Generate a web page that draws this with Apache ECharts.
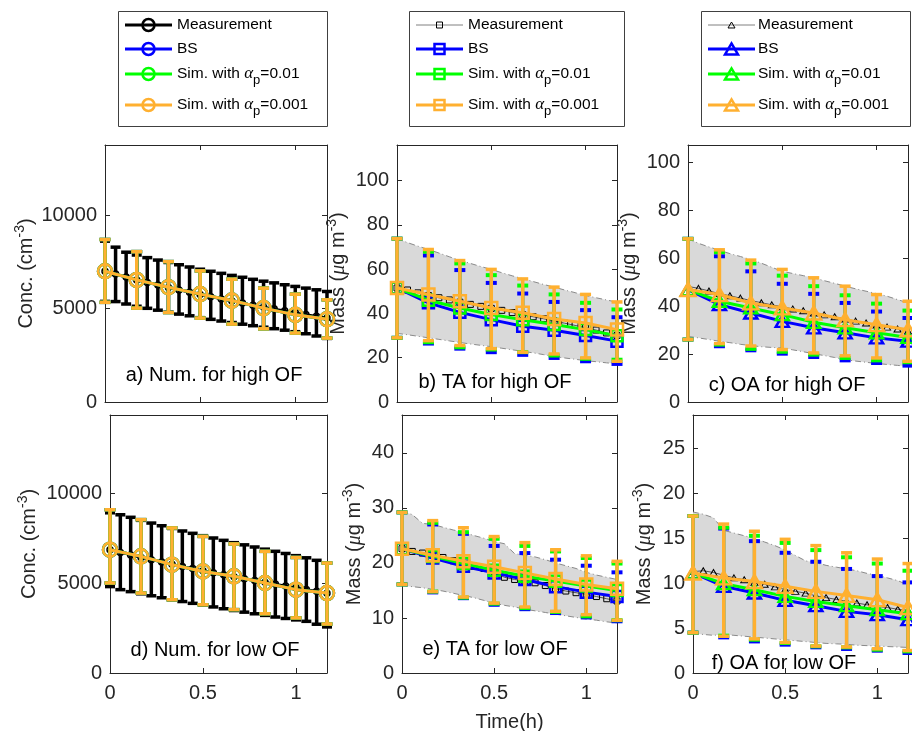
<!DOCTYPE html>
<html><head><meta charset="utf-8">
<script src="https://cdn.jsdelivr.net/npm/echarts@6/dist/echarts.min.js"></script>
<style>html,body{margin:0;padding:0;background:#fff}#c{width:912px;height:731px}</style>
</head><body><div id="c"></div>
<script>
// ================= DATA =================
const simTime  = [0, 0.1667, 0.3333, 0.5, 0.6667, 0.8333, 1.0, 1.1667];
const measTime = [0, 0.0556, 0.1111, 0.1667, 0.2222, 0.2778, 0.3333, 0.3889, 0.4444, 0.5, 0.5556,
                  0.6111, 0.6667, 0.7222, 0.7778, 0.8333, 0.8889, 0.9444, 1.0, 1.0556, 1.1111, 1.1667];
const xTicks = [0, 0.5, 1];
const yTicksNum = [0, 5000, 10000];
const yTicksTAHigh = [0, 20, 40, 60, 80, 100];
const yTicksOAHigh = [0, 20, 40, 60, 80, 100];
const yTicksTALow = [0, 10, 20, 30, 40];
const yTicksOALow = [0, 5, 10, 15, 20, 25];

const seriesNames = ['Measurement', 'BS', 'Sim. with αp=0.01', 'Sim. with αp=0.001'];
const panelTitles = ['a) Num. for high OF', 'b) TA for high OF', 'c) OA for high OF',
                     'd) Num. for low OF', 'e) TA for low OF', 'f) OA for low OF'];

// a) Number, high OF
const numHighMeas   = [6990, 6840, 6680, 6530, 6390, 6260, 6120, 5990, 5870, 5750, 5630, 5510, 5400, 5290, 5180, 5080, 4980, 4880, 4780, 4680, 4580, 4490];
const numHighMeasHi = [8600, 8280, 8010, 7860, 7720, 7590, 7460, 7340, 7220, 7100, 6990, 6880, 6770, 6670, 6560, 6460, 6370, 6270, 6180, 6090, 6000, 5910];
const numHighMeasLo = [5380, 5370, 5240, 5120, 5010, 4910, 4800, 4700, 4610, 4510, 4420, 4330, 4250, 4160, 4080, 4000, 3920, 3840, 3760, 3650, 3530, 3400];
const numHighSim    = [6990, 6530, 6140, 5770, 5425, 5020, 4660, 4430];
const numHighSimLo  = [5330, 5020, 4785, 4486, 4165, 3914, 3685, 3418];
const numHighSimHi  = [8690, 8042, 7508, 7011, 6568, 6088, 5767, 5463];

// d) Number, low OF
const numLowMeas   = [6850, 6700, 6560, 6420, 6290, 6160, 6040, 5920, 5800, 5680, 5570, 5460, 5350, 5240, 5140, 5040, 4940, 4840, 4740, 4640, 4540, 4430];
const numLowMeasHi = [8900, 8790, 8650, 8480, 8330, 8180, 8030, 7890, 7760, 7630, 7500, 7370, 7240, 7120, 7000, 6880, 6760, 6640, 6520, 6400, 6260, 6110];
const numLowMeasLo = [4800, 4630, 4520, 4400, 4290, 4180, 4070, 3970, 3870, 3770, 3670, 3570, 3470, 3380, 3290, 3200, 3110, 3030, 2950, 2870, 2710, 2560];
const numLowSim    = [6850, 6480, 6020, 5640, 5370, 5000, 4630, 4440];
const numLowSimLo  = [5000, 4440, 4070, 3790, 3520, 3290, 3060, 2720];
const numLowSimHi  = [9070, 8520, 8060, 7590, 7170, 6760, 6420, 6110];

// b) TA, high OF
const taHighMeas   = [51.5, 50.6, 49.3, 48.1, 47.1, 46.1, 45.1, 44.1, 43.2, 42.3, 41.4, 40.4, 39.5, 38.5, 37.6, 36.6, 35.6, 34.6, 33.6, 32.5, 31.2, 30.0];
const taHighBandHi = [73.8, 72.0, 70.4, 68.9, 67.3, 65.6, 64.0, 62.6, 61.2, 59.9, 58.4, 57.0, 55.7, 54.4, 53.1, 51.9, 50.6, 49.4, 48.1, 47.1, 46.1, 45.1];
const taHighBandLo = [31.0, 30.4, 29.7, 29.0, 28.3, 27.6, 26.9, 26.2, 25.6, 25.0, 24.3, 23.6, 22.9, 22.2, 21.4, 20.5, 19.9, 19.3, 18.7, 18.2, 17.7, 17.2];
const taHighBS     = [51.5, 44.8, 40.5, 37.2, 34.2, 32.4, 30.0, 27.5];
const taHighBSLo   = [29.0, 26.4, 24.1, 22.5, 21.3, 19.9, 18.4, 17.2];
const taHighBSHi   = [73.8, 66.2, 59.6, 53.8, 49.0, 45.2, 41.5, 38.3];
const taHighS01    = [51.5, 46.0, 42.5, 39.5, 37.2, 35.0, 32.7, 29.9];
const taHighS01Lo  = [29.0, 27.0, 24.7, 23.7, 22.5, 21.0, 19.5, 19.1];
const taHighS01Hi  = [73.8, 67.9, 62.6, 57.3, 52.6, 48.6, 44.8, 41.8];
const taHighS001   = [51.5, 48.6, 45.5, 42.5, 40.3, 37.5, 35.7, 32.7];
const taHighS001Lo = [29.0, 27.7, 25.5, 24.1, 22.5, 21.7, 19.9, 18.4];
const taHighS001Hi = [73.8, 68.9, 63.9, 59.9, 55.6, 51.9, 48.6, 45.2];

// c) OA, high OF
const oaHighMeas   = [48.3, 47.5, 46.4, 45.3, 44.4, 43.4, 42.4, 41.5, 40.6, 39.8, 38.9, 38.1, 37.2, 36.4, 35.6, 34.7, 33.8, 33.0, 32.2, 31.3, 30.5, 29.7];
const oaHighBandHi = [68.2, 66.3, 64.8, 63.4, 62.0, 60.8, 59.5, 58.0, 56.3, 54.6, 53.7, 52.8, 51.9, 50.7, 49.6, 48.4, 47.3, 46.3, 45.3, 44.2, 42.8, 41.4];
const oaHighBandLo = [27.4, 26.8, 26.1, 25.4, 24.8, 24.1, 23.6, 23.1, 22.8, 22.6, 21.8, 21.0, 20.2, 19.4, 18.6, 17.7, 17.1, 16.6, 16.1, 15.7, 15.3, 14.9];
const oaHighBS     = [47.0, 40.7, 37.2, 33.7, 31.0, 28.9, 26.8, 25.4];
const oaHighBSLo   = [26.1, 23.3, 21.6, 20.2, 18.8, 17.4, 16.3, 15.2];
const oaHighBSHi   = [68.2, 60.9, 54.6, 49.4, 45.2, 41.4, 37.8, 35.1];
const oaHighS01    = [47.0, 42.1, 39.3, 36.5, 33.3, 31.0, 28.9, 27.0];
const oaHighS01Lo  = [26.1, 24.0, 22.2, 21.0, 19.8, 18.4, 17.4, 16.6];
const oaHighS01Hi  = [68.2, 62.6, 57.9, 52.8, 48.4, 44.6, 41.1, 38.2];
const oaHighS001   = [47.0, 44.9, 41.4, 39.3, 37.2, 34.4, 32.3, 30.2];
const oaHighS001Lo = [26.1, 24.4, 23.4, 21.9, 20.5, 19.3, 18.4, 17.0];
const oaHighS001Hi = [68.2, 63.6, 59.3, 55.4, 51.9, 48.4, 44.9, 42.1];

// e) TA, low OF
const taLowMeas   = [22.6, 22.1, 21.8, 21.4, 21.0, 20.4, 19.9, 19.4, 19.0, 18.4, 17.4, 17.0, 16.7, 16.4, 15.9, 15.3, 14.9, 14.6, 14.3, 13.9, 13.5, 13.1];
const taLowBandHi = [29.4, 28.8, 27.2, 27.0, 26.5, 26.0, 25.6, 25.0, 24.5, 23.9, 23.5, 21.7, 21.4, 21.1, 20.6, 20.0, 19.5, 19.0, 18.3, 17.8, 17.4, 17.0];
const taLowBandLo = [15.9, 15.7, 15.5, 15.2, 14.9, 14.5, 14.1, 13.7, 13.2, 12.7, 12.3, 12.0, 11.6, 11.3, 11.0, 10.7, 10.4, 10.1, 9.8, 9.6, 9.3, 9.1];
const taLowBS     = [22.6, 20.9, 19.4, 18.2, 17.0, 15.7, 14.7, 13.9];
const taLowBSLo   = [16.1, 14.65, 13.6, 12.4, 11.6, 10.9, 10.1, 9.4];
const taLowBSHi   = [29.2, 27.0, 25.3, 23.1, 21.8, 20.6, 19.5, 18.3];
const taLowS01    = [22.6, 21.2, 19.9, 18.7, 17.6, 16.7, 15.8, 15.0];
const taLowS01Lo  = [16.1, 14.8, 13.7, 12.6, 11.8, 11.1, 10.3, 9.6];
const taLowS01Hi  = [29.2, 27.3, 25.6, 24.4, 23.1, 22.1, 20.9, 19.9];
const taLowS001   = [22.6, 21.4, 20.3, 19.3, 18.2, 17.1, 16.1, 15.3];
const taLowS001Lo = [16.1, 14.8, 13.8, 12.7, 12.0, 11.2, 10.6, 9.6];
const taLowS001Hi = [29.2, 27.7, 26.4, 24.8, 23.7, 22.4, 21.3, 20.3];

// f) OA, low OF
const oaLowMeas   = [11.3, 11.4, 11.2, 10.9, 10.6, 10.4, 10.1, 9.9, 9.6, 9.3, 9.1, 8.9, 8.6, 8.4, 8.2, 8.0, 7.8, 7.6, 7.4, 7.3, 7.1, 7.0];
const oaLowBandHi = [17.95, 17.7, 17.3, 15.9, 15.6, 15.3, 15.0, 14.6, 14.2, 13.7, 13.1, 12.5, 12.3, 12.0, 11.8, 11.6, 11.4, 11.1, 10.9, 10.6, 10.3, 9.8];
const oaLowBandLo = [4.4, 4.3, 4.2, 4.3, 4.2, 4.1, 4.0, 3.9, 3.8, 3.7, 3.6, 3.5, 3.4, 3.3, 3.25, 3.2, 3.1, 3.05, 3.0, 2.95, 2.9, 2.85];
const oaLowBS     = [11.15, 9.66, 8.92, 8.1, 7.5, 6.87, 6.5, 5.94];
const oaLowBSLo   = [4.5, 3.97, 3.52, 3.16, 2.86, 2.68, 2.49, 2.23];
const oaLowBSHi   = [17.5, 16.1, 14.7, 13.4, 12.4, 11.6, 10.8, 10.1];
const oaLowS01    = [11.15, 9.96, 9.29, 8.54, 7.98, 7.5, 7.06, 6.61];
const oaLowS01Lo  = [4.5, 4.16, 3.71, 3.34, 2.97, 2.86, 2.6, 2.41];
const oaLowS01Hi  = [17.5, 16.2, 15.3, 14.5, 13.7, 12.9, 12.2, 11.4];
const oaLowS001   = [11.15, 10.6, 10.2, 9.66, 9.1, 8.65, 8.17, 7.3];
const oaLowS001Lo = [4.5, 4.1, 3.8, 3.4, 3.0, 2.9, 2.7, 2.5];
const oaLowS001Hi = [17.5, 16.6, 15.8, 14.9, 14.2, 13.4, 12.7, 12.2];

// ================= STYLE / LAYOUT =================
const FONT = "'Liberation Sans', Arial, Helvetica, sans-serif";
const AX = '#262626';
const C_MEAS = '#000000', C_BS = '#0000ff', C_S01 = '#00ff00', C_S001 = '#ffb030';
const XMAX = 1.1667;

const layout = [
  {left:105, top:145, width:222, height:257, ymax:13743, ticks:yTicksNum,    gap:65, tx:214, ty:375, name:'conc'},
  {left:397, top:145, width:220, height:257, ymax:116.1, ticks:yTicksTAHigh, gap:45, tx:495, ty:382, name:'mass'},
  {left:688, top:145, width:220, height:257, ymax:107.4, ticks:yTicksOAHigh, gap:45, tx:787, ty:385, name:'mass'},
  {left:110, top:415, width:217, height:258, ymax:14333, ticks:yTicksNum,    gap:67, tx:215, ty:650, name:'conc', xlab:true},
  {left:402, top:415, width:215, height:258, ymax:46.9,  ticks:yTicksTALow,  gap:34, tx:495, ty:649, name:'mass', xlab:true, xname:'Time(h)'},
  {left:693, top:415, width:215, height:258, ymax:28.76, ticks:yTicksOALow,  gap:35, tx:784, ty:663, name:'mass', xlab:true}
];

const nameRich = {
  n:   {fontSize:20, fontFamily:FONT, color:AX, verticalAlign:'middle'},
  mu:  {fontSize:20, fontFamily:"'Liberation Serif', serif", fontStyle:'italic', color:AX, verticalAlign:'middle'},
  sup: {fontSize:14, fontFamily:FONT, color:AX, verticalAlign:'middle', padding:[0,0,13,0]}
};
const yNames = {
  conc: '{n|Conc. (cm}{sup|-3}{n|)}',
  mass: '{n|Mass (}{mu|μ}{n|g m}{sup|-3}{n|)}'
};
const plainNum = v => String(Math.round(v * 1000) / 1000);

// ================= BUILDERS =================
const grids = [], xAxes = [], yAxes = [], series = [];

layout.forEach((L, p) => {
  grids.push({left:L.left, top:L.top, width:L.width, height:L.height, containLabel:false, outerBoundsMode:'none', show:false});
  const tick = {inside:true, length:5, lineStyle:{color:AX, width:1}};
  const line = {show:true, onZero:false, lineStyle:{color:AX, width:1}};
  xAxes.push({gridIndex:p, type:'value', min:0, max:XMAX, interval:xTicks[1]-xTicks[0], position:'bottom',
    axisLine:line, axisTick:tick, splitLine:{show:false},
    axisLabel:{show:!!L.xlab, color:AX, fontSize:20, fontFamily:FONT, margin:10, showMaxLabel:false, formatter:plainNum},
    name:L.xname||'', nameLocation:'middle', nameGap:39,
    nameTextStyle:{fontSize:20, fontFamily:FONT, color:AX}});
  xAxes.push({gridIndex:p, type:'value', min:0, max:XMAX, interval:xTicks[1]-xTicks[0], position:'top',
    axisLine:line, axisTick:tick, splitLine:{show:false}, axisLabel:{show:false}});
  yAxes.push({gridIndex:p, type:'value', min:0, max:L.ymax, interval:L.ticks[1]-L.ticks[0], position:'left',
    axisLine:line, axisTick:tick, splitLine:{show:false},
    axisLabel:{show:true, color:AX, fontSize:20, fontFamily:FONT, margin:8, showMaxLabel:false, formatter:plainNum},
    name:yNames[L.name], nameLocation:'middle', nameGap:L.gap,
    nameTextStyle:{fontSize:20, fontFamily:FONT, color:AX, rich:nameRich}});
  yAxes.push({gridIndex:p, type:'value', min:0, max:L.ymax, interval:L.ticks[1]-L.ticks[0], position:'right',
    axisLine:line, axisTick:tick, splitLine:{show:false}, axisLabel:{show:false}});
});

function band(p, t, lo, hi) {
  return {type:'custom', xAxisIndex:2*p, yAxisIndex:2*p, z:1, silent:true, clip:false,
    data:t.map((v,i)=>[v, lo[i], hi[i]]), encode:{x:0, y:[1,2]},
    renderItem:(params, api) => {
      if (params.dataIndex !== 0) return null;
      const up = t.map((v,i)=>api.coord([v, hi[i]]));
      const dn = t.map((v,i)=>api.coord([v, lo[i]]));
      return {type:'group', children:[
        {type:'polygon', shape:{points: up.concat(dn.slice().reverse())}, style:{fill:'#d9d9d9'}},
        {type:'polyline', shape:{points:up}, style:{stroke:'#8a8a8a', lineWidth:1, lineDash:[6,3,1,3], fill:null}},
        {type:'polyline', shape:{points:dn}, style:{stroke:'#8a8a8a', lineWidth:1, lineDash:[6,3,1,3], fill:null}}
      ]};
    }};
}

function errBars(p, t, lo, hi, color, lw, cap, capLw, z) {
  return {type:'custom', xAxisIndex:2*p, yAxisIndex:2*p, z:z, silent:true, clip:false,
    data:t.map((v,i)=>[v, lo[i], hi[i]]), encode:{x:0, y:[1,2]},
    renderItem:(params, api) => {
      const x = api.value(0);
      const a = api.coord([x, api.value(2)]), b = api.coord([x, api.value(1)]);
      return {type:'group', children:[
        {type:'line', shape:{x1:a[0], y1:a[1], x2:b[0], y2:b[1]}, style:{stroke:color, lineWidth:lw}},
        {type:'line', shape:{x1:a[0]-cap/2, y1:a[1], x2:a[0]+cap/2, y2:a[1]}, style:{stroke:color, lineWidth:capLw}},
        {type:'line', shape:{x1:b[0]-cap/2, y1:b[1], x2:b[0]+cap/2, y2:b[1]}, style:{stroke:color, lineWidth:capLw}}
      ]};
    }};
}

function curve(p, name, t, c, opt) {
  return {type:'line', name:name, xAxisIndex:2*p, yAxisIndex:2*p, z:opt.z, silent:true, clip:false,
    data:t.map((v,i)=>[v, c[i]]), symbol:opt.symbol, symbolSize:opt.size, showSymbol:true, showAllSymbol:true,
    lineStyle:{color:opt.lineColor || opt.color, width:opt.lw},
    itemStyle:{color:'rgba(0,0,0,0)', borderColor:opt.color, borderWidth:opt.bw}};
}

// panels a & d (number concentration)
[[0, numHighMeas, numHighMeasLo, numHighMeasHi, numHighSim, numHighSimLo, numHighSimHi],
 [3, numLowMeas,  numLowMeasLo,  numLowMeasHi,  numLowSim,  numLowSimLo,  numLowSimHi]].forEach(d => {
  const [p, m, mlo, mhi, s, slo, shi] = d;
  series.push(errBars(p, measTime, mlo, mhi, C_MEAS, 3.5, 10, 3.5, 2));
  series.push(curve(p, seriesNames[0], measTime, m, {color:C_MEAS, lw:2.5, symbol:'circle', size:6, bw:1.5, z:2}));
  // BS and both simulations coincide for number concentration
  [[C_BS,3],[C_S01,4],[C_S001,5]].forEach(([col, z], k) => {
    series.push(errBars(p, simTime, slo, shi, col, 3.5, 11, 3.5, z));
    series.push(curve(p, seriesNames[k+1], simTime, s, {color:col, lw:3, symbol:'circle', size:14, bw:2.5, z:z}));
  });
});

// mass panels b, c, e, f
const massPanels = [
  [1, 'rect',     taHighMeas, taHighBandLo, taHighBandHi,
      [taHighBS, taHighBSLo, taHighBSHi], [taHighS01, taHighS01Lo, taHighS01Hi], [taHighS001, taHighS001Lo, taHighS001Hi]],
  [2, 'triangle', oaHighMeas, oaHighBandLo, oaHighBandHi,
      [oaHighBS, oaHighBSLo, oaHighBSHi], [oaHighS01, oaHighS01Lo, oaHighS01Hi], [oaHighS001, oaHighS001Lo, oaHighS001Hi]],
  [4, 'rect',     taLowMeas, taLowBandLo, taLowBandHi,
      [taLowBS, taLowBSLo, taLowBSHi], [taLowS01, taLowS01Lo, taLowS01Hi], [taLowS001, taLowS001Lo, taLowS001Hi]],
  [5, 'triangle', oaLowMeas, oaLowBandLo, oaLowBandHi,
      [oaLowBS, oaLowBSLo, oaLowBSHi], [oaLowS01, oaLowS01Lo, oaLowS01Hi], [oaLowS001, oaLowS001Lo, oaLowS001Hi]]
];
massPanels.forEach(d => {
  const [p, sym, m, blo, bhi, bs, s01, s001] = d;
  const big = sym === 'triangle' ? [15,13] : 12;
  const mid = sym === 'triangle' ? [13,11] : 11;
  series.push(band(p, measTime, blo, bhi));
  series.push(curve(p, seriesNames[0], measTime, m, {color:'#000', lineColor:'#555', lw:1, symbol:sym, size:sym==='triangle'?[7,6]:6, bw:1, z:2}));
  [[bs, C_BS, 3, mid, 3, 4], [s01, C_S01, 4, mid, 3, 4], [s001, C_S001, 5, big, 3.5, 3.5]].forEach(([arr, col, z, sz, lw, clw], k) => {
    series.push(errBars(p, simTime, arr[1], arr[2], col, lw, 11, clw, z));
    series.push(curve(p, seriesNames[k+1], simTime, arr[0], {color:col, lw:3, symbol:sym, size:sz, bw:2.5, z:z}));
  });
});

// ================= GRAPHICS: titles & legends =================
const graphics = [];
layout.forEach((L, p) => {
  graphics.push({type:'text', x:L.tx, y:L.ty, z:100, silent:true,
    style:{text:panelTitles[p], fontSize:20, fontFamily:FONT, fill:'#000', align:'center', verticalAlign:'middle'}});
});

const legRich = {
  n:   {fontSize:15.5, fontFamily:FONT, color:'#000', verticalAlign:'middle'},
  al:  {fontSize:17, fontFamily:"'Liberation Serif', serif", fontStyle:'italic', color:'#000', verticalAlign:'middle'},
  sub: {fontSize:13, fontFamily:FONT, color:'#000', verticalAlign:'middle', padding:[13,0,0,0]}
};
const legTexts = ['{n|Measurement}', '{n|BS}', '{n|Sim. with }{al|α}{sub|p}{n|=0.01}', '{n|Sim. with }{al|α}{sub|p}{n|=0.001}'];
const rowY = [25, 49, 74, 105];

function marker(sym, cx, cy, s, color, lw) {
  const st = {fill:'none', stroke:color, lineWidth:lw};
  if (sym === 'circle') return {type:'circle', shape:{cx, cy, r:s/2}, style:st, z:101};
  if (sym === 'rect') return {type:'rect', shape:{x:cx-s/2, y:cy-s/2, width:s, height:s}, style:st, z:101};
  const w = s, h = s*0.85;
  return {type:'polygon', shape:{points:[[cx, cy-h/2],[cx+w/2, cy+h/2],[cx-w/2, cy+h/2]]}, style:st, z:101};
}

function legend(x0, x1, lx0, lx1, tx, sym, items) {
  graphics.push({type:'rect', shape:{x:x0+0.5, y:11.5, width:x1-x0, height:115}, style:{fill:'#fff', stroke:'#404040', lineWidth:1}, z:100});
  items.forEach((it, i) => {
    const y = rowY[i];
    graphics.push({type:'line', shape:{x1:lx0, y1:y, x2:lx1, y2:y}, style:{stroke:it.line, lineWidth:it.lw}, z:101});
    graphics.push(marker(sym, (lx0+lx1)/2, y, it.size, it.mc, it.mlw));
    graphics.push({type:'text', x:tx, y:y, z:101, silent:true,
      style:{text:legTexts[i], rich:legRich, fontSize:15.5, fontFamily:FONT, fill:'#000', align:'left', verticalAlign:'middle'}});
  });
}
legend(118, 327, 125, 172, 177, 'circle', [
  {line:C_MEAS, lw:3, mc:C_MEAS, size:12, mlw:2.5},
  {line:C_BS, lw:3, mc:C_BS, size:12, mlw:2.5},
  {line:C_S01, lw:3, mc:C_S01, size:12, mlw:2.5},
  {line:C_S001, lw:3, mc:C_S001, size:12, mlw:2.5}]);
legend(409, 624, 416, 463, 468, 'rect', [
  {line:'#808080', lw:1, mc:'#000', size:6, mlw:1},
  {line:C_BS, lw:3, mc:C_BS, size:10, mlw:2.5},
  {line:C_S01, lw:3, mc:C_S01, size:10, mlw:2.5},
  {line:C_S001, lw:3, mc:C_S001, size:10, mlw:2.5}]);
legend(701, 910, 708, 755, 758, 'triangle', [
  {line:'#808080', lw:1, mc:'#000', size:7, mlw:1},
  {line:C_BS, lw:3, mc:C_BS, size:13, mlw:2.5},
  {line:C_S01, lw:3, mc:C_S01, size:13, mlw:2.5},
  {line:C_S001, lw:3, mc:C_S001, size:13, mlw:2.5}]);

const chart = echarts.init(document.getElementById('c'), null, {renderer:'canvas'});
chart.setOption({
  animation:false,
  backgroundColor:'#fff',
  textStyle:{fontFamily:FONT},
  grid:grids, xAxis:xAxes, yAxis:yAxes, series:series,
  graphic:{elements:graphics}
});
</script>
</body></html>
